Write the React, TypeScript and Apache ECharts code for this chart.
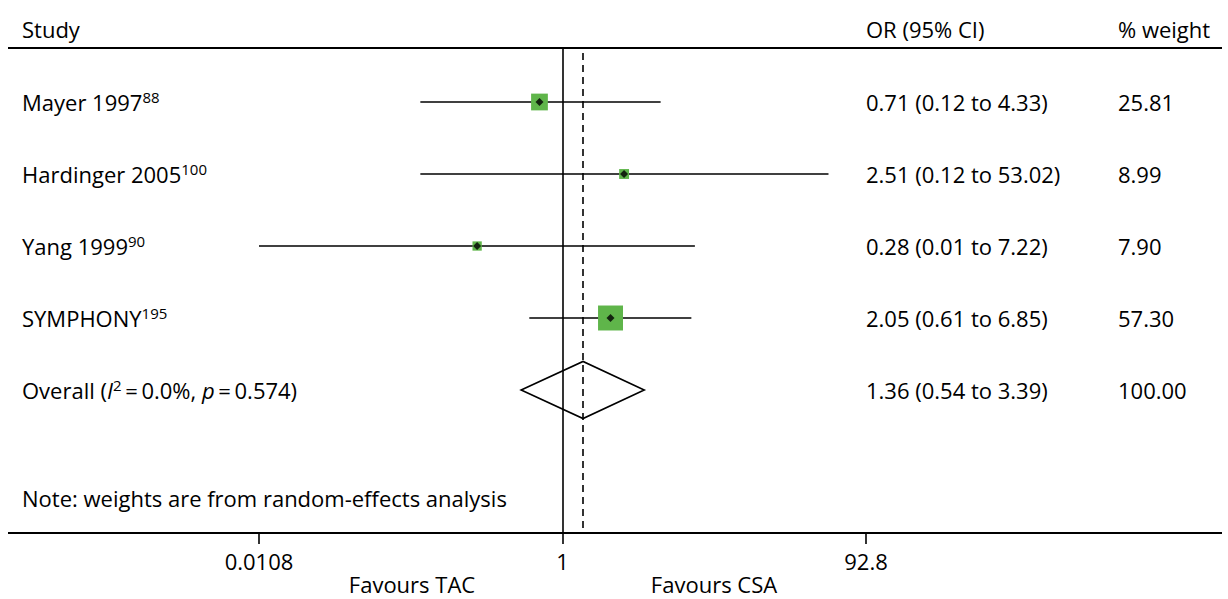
import React, { useEffect, useRef } from 'react';
import * as echarts from 'echarts';

// ---- data ----
const studies = ['Mayer 1997', 'Hardinger 2005', 'Yang 1999', 'SYMPHONY'];
const studyRefs = ['88', '100', '90', '195'];
const orValues = [0.71, 2.51, 0.28, 2.05];
const ciLow = [0.12, 0.12, 0.01, 0.61];
const ciHigh = [4.33, 53.02, 7.22, 6.85];
const weights = [25.81, 8.99, 7.9, 57.3];
const overallOR = 1.36;
const overallLow = 0.54;
const overallHigh = 3.39;
const overallWeight = 100.0;
const overallI2 = '0.0%';
const overallP = '0.574';
const tickValues = [0.0108, 1, 92.8];
const tickLabels = ['0.0108', '1', '92.8'];
const headers = ['Study', 'OR (95% CI)', '% weight'];
const favours = ['Favours TAC', 'Favours CSA'];
const noteText = 'Note: weights are from random-effects analysis';

const FONT = '"Open Sans", "Noto Sans", sans-serif';
const FS = 22;
const GREEN = '#5fb54a';

export default function App() {
  const ref = useRef<HTMLDivElement>(null);
  useEffect(() => {
    if (!ref.current) return;
    const chart = echarts.init(ref.current, null, { renderer: 'svg' });
    const xMin = Math.log(tickValues[0]);
    const xMax = Math.log(tickValues[tickValues.length - 1]);
    const gridTop = 48;
    const gridBottom = 66;
    const rowPx = 72;
    const firstRowY = 102;
    const plotH = 599 - gridTop - gridBottom;
    const yMin = -(firstRowY - gridTop) / rowPx;
    const yMax = yMin + plotH / rowPx;
    const overallRow = studies.length;

    const rowData = studies.map((s, i) => [
      Math.log(orValues[i]),
      i,
      weights[i],
      Math.log(ciLow[i]),
      Math.log(ciHigh[i]),
    ]);

    const textStyleBase = { fontFamily: FONT, fontSize: FS, fill: '#000', lineHeight: 24 };
    const rich = {
      n: { fontFamily: FONT, fontSize: FS, lineHeight: 26, color: '#000' },
      s: { fontFamily: FONT, fontSize: 15, lineHeight: 26, color: '#000', verticalAlign: 'top' },
      i: { fontFamily: FONT, fontSize: FS, lineHeight: 26, color: '#000', fontStyle: 'italic' },
    };

    const eq = '\u2009=\u2009';
    const tableRows = [
      ...studies.map((s, i) => ({
        label: `{n|${s}}{s|${studyRefs[i]}}`,
        or: `${orValues[i].toFixed(2)} (${ciLow[i].toFixed(2)} to ${ciHigh[i].toFixed(2)})`,
        w: weights[i].toFixed(2),
        row: i,
      })),
      {
        label: `{n|Overall (}{i|I}{s|2}{n|${eq}${overallI2}, }{i|p}{n|${eq}${overallP})}`,
        or: `${overallOR.toFixed(2)} (${overallLow.toFixed(2)} to ${overallHigh.toFixed(2)})`,
        w: overallWeight.toFixed(2),
        row: overallRow,
      },
    ];

    const option: any = {
      animation: false,
      backgroundColor: '#fff',
      grid: { left: 259, right: 1228 - 866, top: gridTop, bottom: gridBottom },
      xAxis: {
        type: 'value',
        position: 'bottom',
        min: xMin,
        max: xMax,
        axisLine: { show: false, onZero: false },
        splitLine: { show: false },
        axisTick: {
          show: true,
          customValues: tickValues.map((v) => Math.log(v)),
          length: 11,
          lineStyle: { color: '#000', width: 1.6 },
        },
        axisLabel: {
          customValues: tickValues.map((v) => Math.log(v)),
          margin: 17,
          fontFamily: FONT,
          fontSize: FS,
          color: '#000',
          formatter: (v: number) => {
            let best = 0;
            tickValues.forEach((t, k) => {
              if (Math.abs(Math.log(t) - v) < Math.abs(Math.log(tickValues[best]) - v)) best = k;
            });
            return tickLabels[best];
          },
        },
      },
      yAxis: { type: 'value', inverse: true, min: yMin, max: yMax, show: false },
      graphic: [
        { type: 'line', shape: { x1: 8, y1: gridTop, x2: 1222, y2: gridTop }, style: { stroke: '#000', lineWidth: 2 } },
        { type: 'line', shape: { x1: 8, y1: 599 - gridBottom, x2: 1222, y2: 599 - gridBottom }, style: { stroke: '#000', lineWidth: 2 } },
        { type: 'text', x: 22, y: 29, style: { ...textStyleBase, text: headers[0], verticalAlign: 'middle' } },
        { type: 'text', x: 866, y: 29, style: { ...textStyleBase, text: headers[1], verticalAlign: 'middle' } },
        { type: 'text', x: 1118, y: 29, style: { ...textStyleBase, text: headers[2], verticalAlign: 'middle' } },
        { type: 'text', x: 412, y: 584, style: { ...textStyleBase, lineHeight: 22, text: favours[0], align: 'center', verticalAlign: 'middle' } },
        { type: 'text', x: 714, y: 584, style: { ...textStyleBase, lineHeight: 22, text: favours[1], align: 'center', verticalAlign: 'middle' } },
        { type: 'text', x: 22, y: 498, style: { ...textStyleBase, text: noteText, verticalAlign: 'middle' } },
      ],
      series: [
        {
          type: 'custom',
          name: 'ci',
          clip: true,
          encode: { x: [3, 4], y: 1 },
          data: rowData,
          renderItem: (params: any, api: any) => {
            const row = api.value(1);
            const p1 = api.coord([api.value(3), row]);
            const p2 = api.coord([api.value(4), row]);
            return {
              type: 'line',
              shape: { x1: p1[0], y1: p1[1], x2: p2[0], y2: p2[1] },
              style: { stroke: '#000', lineWidth: 1.6 },
            };
          },
          z: 2,
        },
        {
          type: 'scatter',
          name: 'weight',
          data: rowData.map((d) => [d[0], d[1], d[2]]),
          symbol: 'rect',
          symbolSize: (v: number[]) => 3.3 * Math.sqrt(v[2]),
          itemStyle: { color: GREEN, opacity: 1 },
          z: 3,
          markLine: {
            silent: true,
            symbol: 'none',
            label: { show: false },
            data: [
              [
                { coord: [0, yMin] },
                { coord: [0, yMax] },
              ],
              [
                { coord: [Math.log(overallOR), yMin + 5 / rowPx] },
                { coord: [Math.log(overallOR), yMax] },
              ],
            ].map((pair, k) =>
              pair.map((p) => ({
                ...p,
                lineStyle: k === 0
                  ? { color: '#000', width: 1.6, type: 'solid' }
                  : { color: '#000', width: 1.6, type: [7, 5] },
              }))
            ),
          },
        },
        {
          type: 'scatter',
          name: 'point',
          data: rowData.map((d) => [d[0], d[1]]),
          symbol: 'diamond',
          symbolSize: 8,
          itemStyle: { color: '#000' },
          z: 4,
        },
        {
          type: 'custom',
          name: 'overall',
          clip: false,
          encode: { x: [0, 1, 2], y: 3 },
          data: [[Math.log(overallLow), Math.log(overallOR), Math.log(overallHigh), overallRow]],
          renderItem: (params: any, api: any) => {
            const row = api.value(3);
            const l = api.coord([api.value(0), row]);
            const m = api.coord([api.value(1), row]);
            const r = api.coord([api.value(2), row]);
            const h = 28.5;
            return {
              type: 'polygon',
              shape: { points: [[l[0], l[1]], [m[0], m[1] - h], [r[0], r[1]], [m[0], m[1] + h]] },
              style: { fill: 'none', stroke: '#000', lineWidth: 1.6 },
            };
          },
          z: 3,
        },
        {
          type: 'custom',
          name: 'table',
          clip: false,
          encode: { y: 0 },
          data: tableRows.map((r) => [r.row]),
          renderItem: (params: any, api: any) => {
            const r = tableRows[params.dataIndex];
            const y = api.coord([0, api.value(0)])[1];
            return {
              type: 'group',
              children: [
                { type: 'text', x: 22, y, style: { text: r.label, rich, verticalAlign: 'middle', fontFamily: FONT, fontSize: FS } },
                { type: 'text', x: 866, y, style: { ...textStyleBase, text: r.or, verticalAlign: 'middle' } },
                { type: 'text', x: 1118, y, style: { ...textStyleBase, text: r.w, verticalAlign: 'middle' } },
              ],
            };
          },
          z: 5,
        },
      ],
    };
    chart.setOption(option);
    return () => chart.dispose();
  }, []);
  return <div ref={ref} style={{ position: 'absolute', left: 0, top: 0, width: 1228, height: 599 }} />;
}
